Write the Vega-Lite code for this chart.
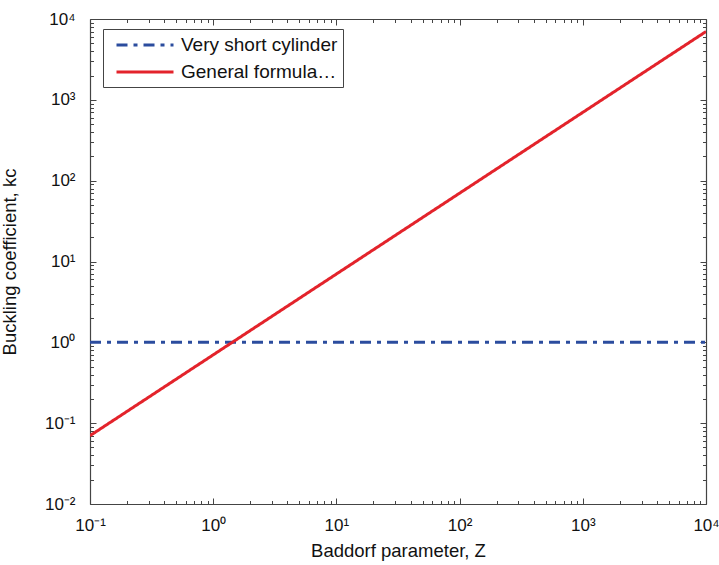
{
  "$schema": "https://vega.github.io/schema/vega-lite/v6.json",
  "width": 616,
  "height": 485,
  "autosize": {"type": "none"},
  "padding": {"left": 90, "top": 19, "right": 13, "bottom": 61},
  "background": "white",
  "config": {
    "font": "Liberation Sans",
    "view": {"stroke": null},
    "axis": {
      "grid": false,
      "domainColor": "#444",
      "domainWidth": 1.2,
      "tickColor": "#444",
      "tickWidth": 1,
      "labelColor": "#111",
      "titleColor": "#111",
      "labelFont": "Liberation Sans",
      "titleFont": "Liberation Sans",
      "titleFontWeight": "normal",
      "labelFontSize": 17,
      "titleFontSize": 18.5,
      "labelOverlap": false,
      "labelFlush": false,
      "labelBound": false
    }
  },
  "data": {
    "values": [
      {"series": "Very short cylinder", "Z": 0.1, "kc": 1},
      {"series": "Very short cylinder", "Z": 10000, "kc": 1},
      {"series": "General formulation", "Z": 0.1, "kc": 0.07},
      {"series": "General formulation", "Z": 10000, "kc": 7000}
    ]
  },
  "layer": [
    {
      "mark": {"type": "point", "opacity": 0},
      "encoding": {
        "x": {
          "field": "Z", "type": "quantitative",
          "scale": {"type": "log", "domain": [0.1, 10000], "nice": false},
          "axis": {"orient": "bottom", "title": null, "labels": false, "domain": false, "tickSize": -3.5,
            "values": [0.2,0.3,0.4,0.5,0.6,0.7,0.8,0.9,2,3,4,5,6,7,8,9,20,30,40,50,60,70,80,90,200,300,400,500,600,700,800,900,2000,3000,4000,5000,6000,7000,8000,9000]}
        },
        "y": {
          "field": "kc", "type": "quantitative",
          "scale": {"type": "log", "domain": [0.01, 10000], "nice": false},
          "axis": {"orient": "left", "title": null, "labels": false, "domain": false, "tickSize": -3.5,
            "values": [0.02,0.03,0.04,0.05,0.06,0.07,0.08,0.09,0.2,0.3,0.4,0.5,0.6,0.7,0.8,0.9,2,3,4,5,6,7,8,9,20,30,40,50,60,70,80,90,200,300,400,500,600,700,800,900,2000,3000,4000,5000,6000,7000,8000,9000]}
        }
      }
    },
    {
      "mark": {"type": "point", "opacity": 0},
      "encoding": {
        "x": {
          "field": "Z", "type": "quantitative",
          "axis": {"orient": "top", "title": null, "labels": false, "tickSize": -6,
            "values": [0.1, 1, 10, 100, 1000, 10000]}
        },
        "y": {
          "field": "kc", "type": "quantitative",
          "axis": {"orient": "right", "title": null, "labels": false, "tickSize": -6,
            "values": [0.01, 0.1, 1, 10, 100, 1000, 10000]}
        }
      }
    },
    {
      "mark": {"type": "point", "opacity": 0},
      "encoding": {
        "x": {
          "field": "Z", "type": "quantitative",
          "axis": {"orient": "top", "title": null, "labels": false, "domain": false, "tickSize": -3.5,
            "values": [0.2,0.3,0.4,0.5,0.6,0.7,0.8,0.9,2,3,4,5,6,7,8,9,20,30,40,50,60,70,80,90,200,300,400,500,600,700,800,900,2000,3000,4000,5000,6000,7000,8000,9000]}
        },
        "y": {
          "field": "kc", "type": "quantitative",
          "axis": {"orient": "right", "title": null, "labels": false, "domain": false, "tickSize": -3.5,
            "values": [0.02,0.03,0.04,0.05,0.06,0.07,0.08,0.09,0.2,0.3,0.4,0.5,0.6,0.7,0.8,0.9,2,3,4,5,6,7,8,9,20,30,40,50,60,70,80,90,200,300,400,500,600,700,800,900,2000,3000,4000,5000,6000,7000,8000,9000]}
        }
      }
    },
    {
      "mark": {"type": "line", "strokeWidth": 3, "clip": true},
      "encoding": {
        "x": {
          "field": "Z",
          "type": "quantitative",
          "axis": {
            "orient": "bottom",
            "title": "Baddorf parameter, Z",
            "titlePadding": 8,
            "labelPadding": 19,
            "tickSize": -6,
            "values": [0.1, 1, 10, 100, 1000, 10000],
            "labelExpr": "'10' + ['⁻²','⁻¹','⁰','¹','²','³','⁴'][round(log(datum.value)/LN10)+2]"
          }
        },
        "y": {
          "field": "kc",
          "type": "quantitative",
          "axis": {
            "orient": "left",
            "title": "Buckling coefficient, kc",
            "titlePadding": 25,
            "labelPadding": 21,
            "tickSize": -6,
            "values": [0.01, 0.1, 1, 10, 100, 1000, 10000],
            "labelExpr": "'10' + ['⁻²','⁻¹','⁰','¹','²','³','⁴'][round(log(datum.value)/LN10)+2]"
          }
        },
        "color": {
          "field": "series",
          "type": "nominal",
          "scale": {"domain": ["Very short cylinder", "General formulation"], "range": ["#2b4c9e", "#e3232b"]},
          "legend": {
            "orient": "none",
            "legendX": 13,
            "legendY": 10,
            "title": null,
            "labelFont": "Liberation Sans",
            "labelFontSize": 19,
            "labelColor": "#111",
            "symbolType": "M-3,0H3",
            "symbolSize": 361,
            "symbolStrokeWidth": 3,
            "symbolOffset": 26,
            "labelOffset": 25,
            "strokeColor": "#444",
            "fillColor": "white",
            "padding": 5,
            "rowPadding": 6
          }
        },
        "strokeDash": {
          "field": "series",
          "type": "nominal",
          "scale": {"domain": ["Very short cylinder", "General formulation"], "range": [[11, 6, 4, 6], [1, 0]]},
          "legend": {
            "orient": "none",
            "legendX": 13,
            "legendY": 10,
            "title": null
          }
        }
      }
    }
  ],
  "resolve": {"axis": {"x": "independent", "y": "independent"}}
}
